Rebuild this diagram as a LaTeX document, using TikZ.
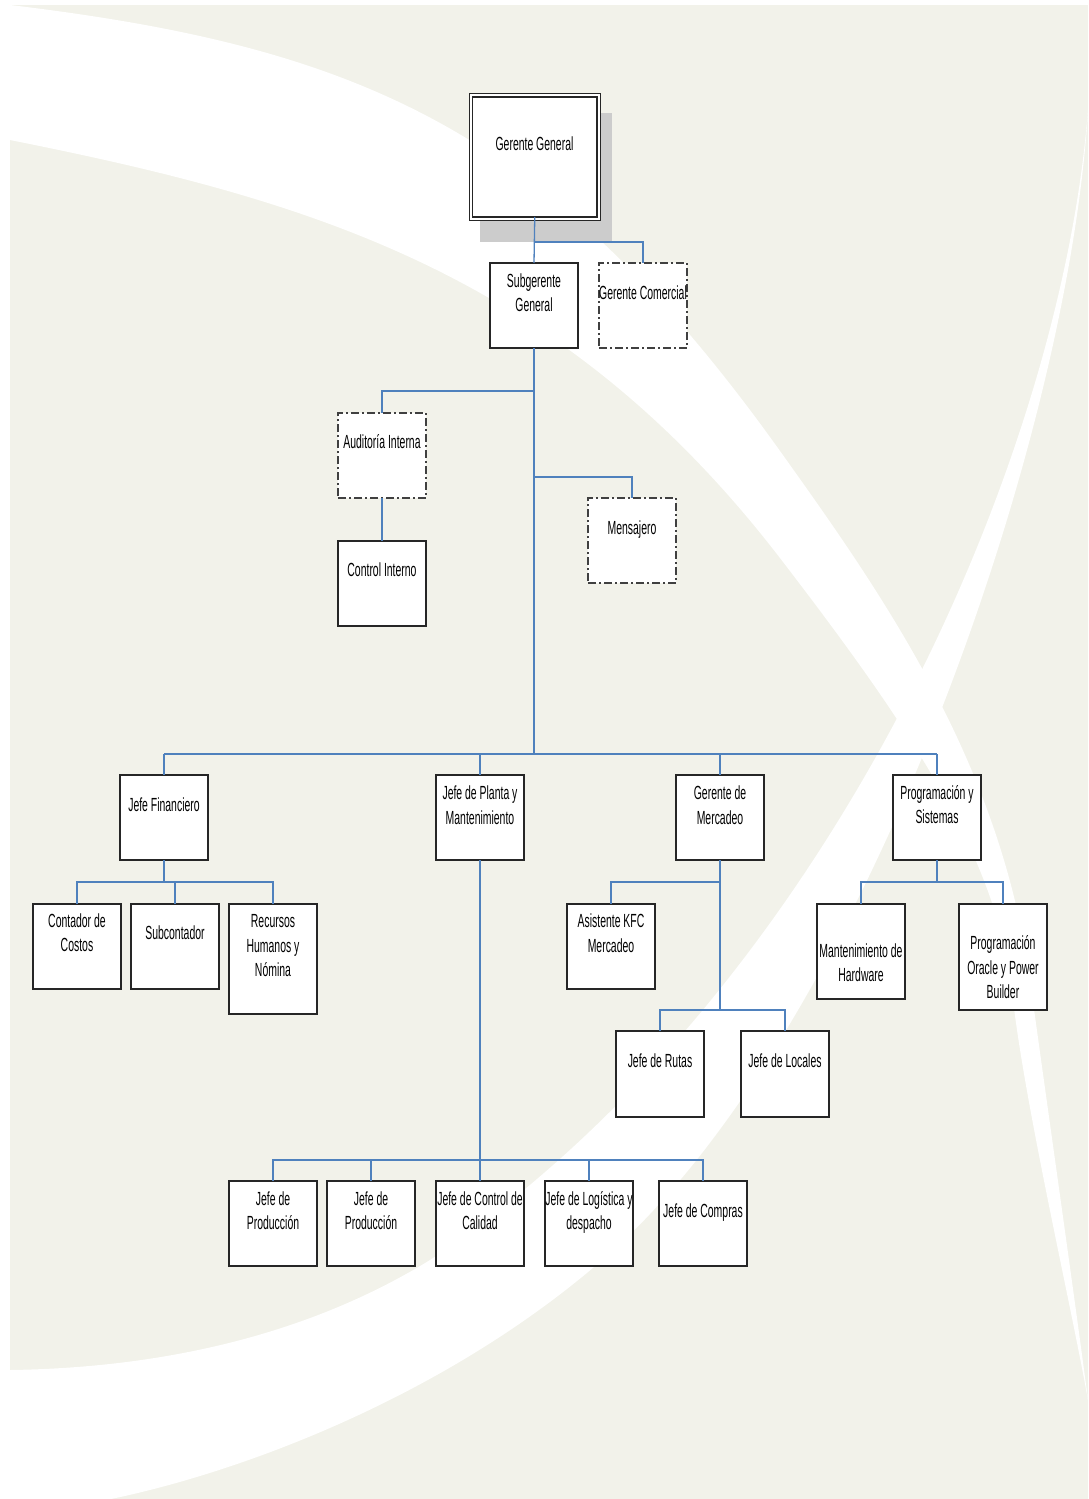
\documentclass[tikz,border=0pt]{standalone}
\usepackage{fontspec}
\setmainfont{Liberation Sans}[FakeStretch=0.55]
\definecolor{beige}{RGB}{242,242,234}
\definecolor{connblue}{RGB}{79,129,189}
\definecolor{shadowgray}{RGB}{204,204,204}
\newcommand{\lblfont}{\fontsize{19pt}{24.5pt}\selectfont}
\begin{document}
\begin{tikzpicture}[x=1pt,y=-1pt,
  box/.style={draw=black!85, line width=1.1pt, fill=white, inner sep=0pt, outer sep=0pt, minimum width=88pt, minimum height=85pt},
  dbox/.style={box, draw=black!75, dash pattern=on 8pt off 3pt on 2pt off 3pt},
  lbl/.style={align=center, inner sep=0pt, font=\lblfont},
  conn/.style={draw=connblue, line width=1.3pt}]
\useasboundingbox (0,0) rectangle (1088,1499);
% background
\fill[beige] (10,5) rectangle (1088,1499);
\fill[white] (10,5) .. controls (360,47) and (550,129) .. (780,451)
  .. controls (880,591) and (1000,760) .. (1030,980)
  .. controls (1045,1090) and (1075,1300) .. (1088,1400)
  .. controls (1070,1300) and (1026,1110) .. (1013,1000)
  .. controls (1000,860) and (912,730) .. (780,558)
  .. controls (560,272) and (310,200) .. (10,140) -- cycle;
\fill[white] (1088,110) .. controls (1068,450) and (855,1050) .. (594,1267)
  .. controls (444,1394) and (250,1470) .. (111,1499)
  -- (0,1499) -- (0,1370) -- (10,1370)
  .. controls (150,1368) and (300,1340) .. (430,1260)
  .. controls (820,1000) and (1060,470) .. (1088,110) -- cycle;
% top box
\fill[shadowgray] (480,113) rectangle (612,242);
\node[box, line width=0.9pt, minimum width=131pt, minimum height=127pt] (gg) at (534.5,156.5) {};
\node[box, line width=1.6pt, minimum width=124.5pt, minimum height=120pt] (ggin) at (534.75,157) {};
\node[lbl] (gg-t) at (534.5,145.5) {\strut Gerente General};
% second level
\node[box] (sg) at (534,305.5) {};
\node[lbl] (sg-t) at (534,294.5) {\strut Subgerente\\\strut General};
\node[dbox] (gc) at (643,305.5) {};
\node[lbl] (gc-t) at (643,294.5) {\strut Gerente Comercial};
\node[dbox] (ai) at (382,455.5) {};
\node[lbl] (ai-t) at (382,443.5) {\strut Auditoría Interna};
\node[box] (ci) at (382,583.5) {};
\node[lbl] (ci-t) at (382,571.5) {\strut Control Interno};
\node[dbox] (me) at (632,540.5) {};
\node[lbl] (me-t) at (632,529.5) {\strut Mensajero};
% department heads
\node[box] (jf) at (164,817.5) {};
\node[lbl] (jf-t) at (164,806.5) {\strut Jefe Financiero};
\node[box] (jp) at (480,817.5) {};
\node[lbl] (jp-t) at (480,807) {\strut Jefe de Planta y\\\strut Mantenimiento};
\node[box] (gm) at (720,817.5) {};
\node[lbl] (gm-t) at (720,807) {\strut Gerente de\\\strut Mercadeo};
\node[box] (ps) at (937,817.5) {};
\node[lbl] (ps-t) at (937,806.5) {\strut Programación y\\\strut Sistemas};
% finance
\node[box] (cc) at (77,946.5) {};
\node[lbl] (cc-t) at (77,934.5) {\strut Contador de\\\strut Costos};
\node[box] (su) at (175,946.5) {};
\node[lbl] (su-t) at (175,934.5) {\strut Subcontador};
\node[box, minimum height=110pt] (rh) at (273,959) {};
\node[lbl] (rh-t) at (273,947.5) {\strut Recursos\\\strut Humanos y\\\strut Nómina};
% marketing
\node[box] (ak) at (611,946.5) {};
\node[lbl] (ak-t) at (611,935) {\strut Asistente KFC\\\strut Mercadeo};
\node[box, minimum height=86pt] (jr) at (660,1074) {};
\node[lbl] (jr-t) at (660,1062.5) {\strut Jefe de Rutas};
\node[box, minimum height=86pt] (jl) at (785,1074) {};
\node[lbl] (jl-t) at (785,1062.5) {\strut Jefe de Locales};
% systems
\node[box, minimum height=95pt] (mh) at (861,951.5) {};
\node[lbl] (mh-t) at (861,964.5) {\strut Mantenimiento de\\\strut Hardware};
\node[box, minimum height=106pt] (po) at (1003,957) {};
\node[lbl] (po-t) at (1003,969.5) {\strut Programación\\\strut Oracle y Power\\\strut Builder};
% plant
\node[box] (p1) at (273,1223.5) {};
\node[lbl] (p1-t) at (273,1212.5) {\strut Jefe de\\\strut Producción};
\node[box] (p2) at (371,1223.5) {};
\node[lbl] (p2-t) at (371,1212.5) {\strut Jefe de\\\strut Producción};
\node[box] (cq) at (480,1223.5) {};
\node[lbl] (cq-t) at (480,1212.5) {\strut Jefe de Control de\\\strut Calidad};
\node[box] (lg) at (589,1223.5) {};
\node[lbl] (lg-t) at (589,1212.5) {\strut Jefe de Logística y\\\strut despacho};
\node[box] (co) at (703,1223.5) {};
\node[lbl] (co-t) at (703,1212.5) {\strut Jefe de Compras};
% connectors
\coordinate (b1) at (534,242);
\coordinate (b2) at (534,391);
\coordinate (b3) at (534,477);
\coordinate (busL) at (164,754);
\coordinate (busR) at (937,754);
\coordinate (busM) at (534,754);
\coordinate (fin) at (164,882);
\coordinate (mkt1) at (720,882);
\coordinate (mkt2) at (720,1010);
\coordinate (sys) at (937,882);
\coordinate (plant) at (480,1160);
\draw[conn] (ggin.south) -- (sg.north);
\draw[conn] (b1) -| (gc.north);
\draw[conn] (sg.south) -- (busM);
\draw[conn] (b2) -| (ai.north);
\draw[conn] (ai.south) -- (ci.north);
\draw[conn] (b3) -| (me.north);
\draw[conn] (busL) -- (busR);
\draw[conn] (busL) -- (jf.north);
\draw[conn] (jp.north |- busL) -- (jp.north);
\draw[conn] (gm.north |- busL) -- (gm.north);
\draw[conn] (busR) -- (ps.north);
\draw[conn] (jf.south) -- (fin);
\draw[conn] (cc.north) |- (fin) -| (rh.north);
\draw[conn] (su.north |- fin) -- (su.north);
\draw[conn] (gm.south) -- (mkt2);
\draw[conn] (mkt1) -| (ak.north);
\draw[conn] (jr.north) |- (mkt2) -| (jl.north);
\draw[conn] (ps.south) -- (sys);
\draw[conn] (mh.north) |- (sys) -| (po.north);
\draw[conn] (jp.south) -- (plant);
\draw[conn] (p1.north) |- (plant) -| (co.north);
\draw[conn] (p2.north |- plant) -- (p2.north);
\draw[conn] (plant) -- (cq.north);
\draw[conn] (lg.north |- plant) -- (lg.north);
\end{tikzpicture}
\end{document}
